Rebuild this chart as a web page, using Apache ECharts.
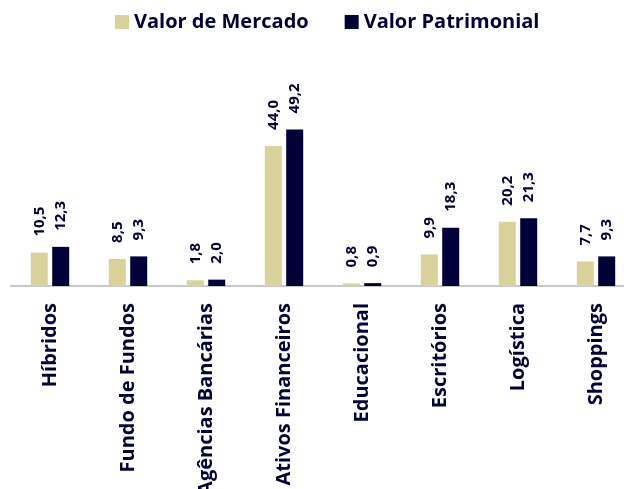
<!DOCTYPE html>
<html>
<head>
<meta charset="utf-8">
<script src="https://cdn.jsdelivr.net/npm/echarts@6/dist/echarts.min.js"></script>
<style>
  html, body { margin: 0; padding: 0; background: #fff; }
  #chart { width: 624px; height: 489px; }
</style>
</head>
<body>
<div id="chart"></div>
<script>
var categories = ["Híbridos", "Fundo de Fundos", "Agências Bancárias", "Ativos Financeiros", "Educacional", "Escritórios", "Logística", "Shoppings"];
var valorMercado = [10.5, 8.5, 1.8, 44.0, 0.8, 9.9, 20.2, 7.7];
var valorPatrimonial = [12.3, 9.3, 2.0, 49.2, 0.9, 18.3, 21.3, 9.3];

var navy = "#020038";
var beige = "#d9d29b";
var font = "Open Sans";

function fmt(p) {
  return p.value.toFixed(1).replace(".", ",");
}

var chart = echarts.init(document.getElementById("chart"));

var valueLabel = {
  show: true,
  position: "top",
  rotate: 90,
  align: "left",
  verticalAlign: "middle",
  distance: 16,
  formatter: fmt,
  color: navy,
  fontFamily: font,
  fontWeight: "bold",
  fontSize: 15
};

chart.setOption({
  animation: false,
  legend: {
    top: 7,
    left: 110,
    itemWidth: 14,
    itemHeight: 14,
    itemGap: 36,
    icon: "rect",
    textStyle: { color: navy, fontFamily: font, fontWeight: "bold", fontSize: 20 },
    data: ["Valor de Mercado", "Valor Patrimonial"]
  },
  grid: { left: 11, right: -11, top: 95, bottom: 203, containLabel: false, outerBoundsMode: "none" },
  xAxis: {
    type: "category",
    data: categories,
    axisTick: { show: false },
    axisLine: { lineStyle: { color: "#c8c8c8", width: 2 } },
    axisLabel: {
      rotate: 90,
      interval: 0,
      margin: 17,
      color: navy,
      fontFamily: font,
      fontWeight: "bold",
      fontSize: 20
    }
  },
  yAxis: {
    type: "value",
    min: 0,
    max: 60,
    show: false,
    splitLine: { show: false }
  },
  series: [
    {
      name: "Valor de Mercado",
      type: "bar",
      data: valorMercado,
      barWidth: 17,
      barGap: "26%",
      itemStyle: { color: beige },
      label: valueLabel
    },
    {
      name: "Valor Patrimonial",
      type: "bar",
      data: valorPatrimonial,
      barWidth: 17,
      itemStyle: { color: navy },
      label: valueLabel
    }
  ]
});
</script>
</body>
</html>
